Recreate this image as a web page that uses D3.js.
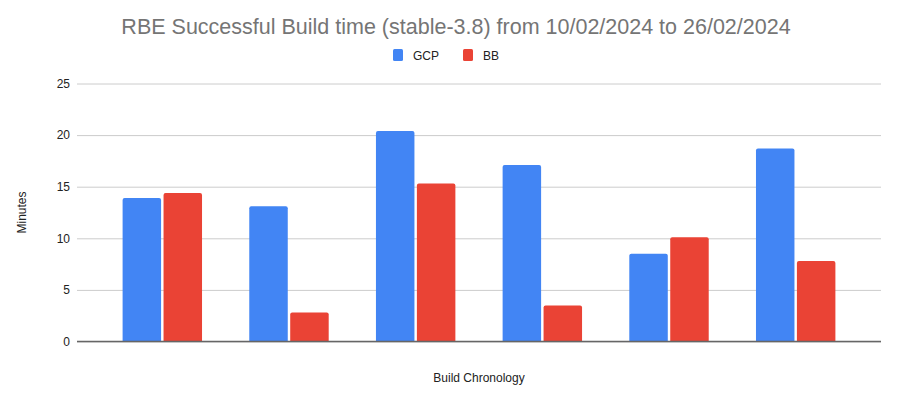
<!DOCTYPE html>
<html>
<head>
<meta charset="utf-8">
<script src="https://cdn.jsdelivr.net/npm/d3@7"></script>
<style>
  body { margin: 0; background: #fff; }
  svg { font-family: "Liberation Sans", Arial, sans-serif; }
</style>
</head>
<body>
<svg id="chart"></svg>
<script>
const width = 898;
const height = 396;
const builds = ['1', '2', '3', '4', '5', '6'];
const series = ['GCP', 'BB'];
const gcp = [13.9, 13.1, 20.4, 17.1, 8.5, 18.7];
const bb = [14.4, 2.8, 15.3, 3.5, 10.1, 7.8];
const yTicks = [0, 5, 10, 15, 20, 25];
const colors = { GCP: '#4285F4', BB: '#EA4335' };

const margin = { left: 77, right: 17, top: 83.5, bottom: 54.5 };

const rows = builds.map((b, i) => ({ build: b, GCP: gcp[i], BB: bb[i] }));

const svg = d3.select('#chart')
    .attr('width', width)
    .attr('height', height);

const x = d3.scaleBand()
    .domain(builds)
    .range([margin.left, width - margin.right])
    .paddingInner(0.373)
    .paddingOuter(0.36);

const xs = d3.scaleBand()
    .domain(series)
    .range([0, x.bandwidth()])
    .paddingInner(0.06);

const y = d3.scaleLinear()
    .domain([0, 25])
    .range([height - margin.bottom, margin.top]);

// gridlines + tick labels
const yAxis = d3.axisLeft(y)
    .tickValues(yTicks)
    .tickSize(-(width - margin.left - margin.right))
    .tickPadding(7);

const ga = svg.append('g')
    .attr('transform', `translate(${margin.left},0)`)
    .call(yAxis);
ga.select('.domain').remove();
ga.selectAll('.tick line').attr('stroke', '#cccccc').attr('stroke-width', 1);
ga.selectAll('.tick text')
    .attr('fill', '#222')
    .attr('font-size', 12)
    .attr('font-family', '"Liberation Sans", Arial, sans-serif');

// bars
const groups = svg.append('g').selectAll('g')
    .data(rows)
    .join('g')
    .attr('transform', d => `translate(${x(d.build)},0)`);

groups.selectAll('path')
    .data(d => series.map(s => ({ key: s, value: d[s] })))
    .join('path')
    .attr('fill', d => colors[d.key])
    .attr('d', d => {
        const x0 = xs(d.key), w = xs.bandwidth();
        const y0 = y(0), y1 = y(d.value), r = 2;
        return `M${x0},${y0}V${y1 + r}Q${x0},${y1} ${x0 + r},${y1}H${x0 + w - r}Q${x0 + w},${y1} ${x0 + w},${y1 + r}V${y0}Z`;
    });

// baseline
svg.append('line')
    .attr('x1', margin.left)
    .attr('x2', width - margin.right)
    .attr('y1', y(0))
    .attr('y2', y(0))
    .attr('stroke', '#666')
    .attr('stroke-width', 1.5);

// title
svg.append('text')
    .attr('x', 456)
    .attr('y', 34)
    .attr('text-anchor', 'middle')
    .attr('font-size', 21.5)
    .attr('fill', '#757575')
    .text('RBE Successful Build time (stable-3.8) from 10/02/2024 to 26/02/2024');

// legend
const legend = svg.append('g');
const legendX = [393, 463];
series.forEach((s, i) => {
    legend.append('rect')
        .attr('x', legendX[i])
        .attr('y', 49)
        .attr('width', 10)
        .attr('height', 12)
        .attr('rx', 1.5)
        .attr('fill', colors[s]);
    legend.append('text')
        .attr('x', legendX[i] + 20)
        .attr('y', 59.5)
        .attr('font-size', 12)
        .attr('fill', '#222')
        .text(s);
});

// axis titles
svg.append('text')
    .attr('x', (margin.left + width - margin.right) / 2)
    .attr('y', 382)
    .attr('text-anchor', 'middle')
    .attr('font-size', 12)
    .attr('fill', '#222')
    .text('Build Chronology');

svg.append('text')
    .attr('transform', `translate(26,${(margin.top + height - margin.bottom) / 2}) rotate(-90)`)
    .attr('text-anchor', 'middle')
    .attr('font-size', 12)
    .attr('fill', '#222')
    .text('Minutes');
</script>
</body>
</html>
